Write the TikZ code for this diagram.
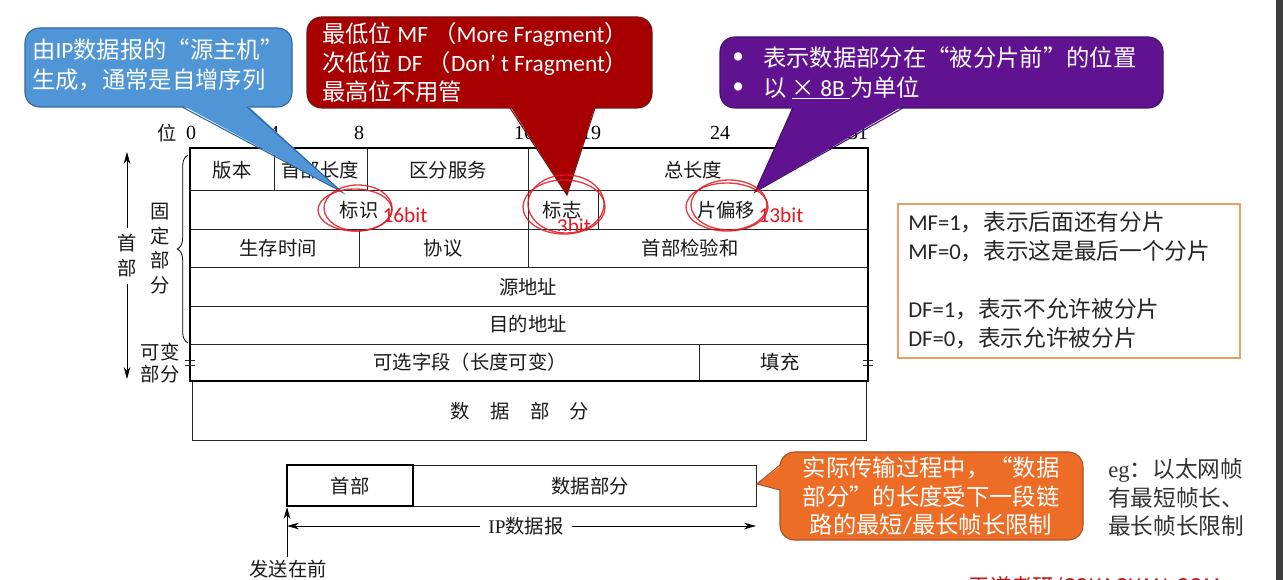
\documentclass[tikz,border=0pt]{standalone}
\usepackage{fontspec}
\setmainfont{Liberation Serif}
\newfontfamily\cjk{Noto Sans CJK SC}
\newfontfamily\carl{Carlito}
\usetikzlibrary{arrows.meta,decorations.pathreplacing}
\definecolor{cblue}{RGB}{80,150,215}
\definecolor{cblueline}{RGB}{50,100,160}
\definecolor{cred}{RGB}{168,0,0}
\definecolor{credline}{RGB}{110,20,20}
\definecolor{cpurple}{RGB}{96,18,145}
\definecolor{cpurpleline}{RGB}{60,20,100}
\definecolor{corange}{RGB}{237,108,38}
\definecolor{corangeline}{RGB}{170,80,40}
\definecolor{cbox}{RGB}{230,160,100}
\definecolor{pen}{RGB}{225,25,35}
\definecolor{wm}{RGB}{190,20,20}
\definecolor{sidebar}{RGB}{62,62,62}
\begin{document}
\begin{tikzpicture}[x=0.75pt,y=-0.75pt,
  cell/.style={font=\cjk\fontsize{14.5}{17}\selectfont,inner sep=0pt,text=black!90},
  bitlab/.style={font=\fontsize{15}{18}\selectfont,inner sep=0pt},
  gridline/.style={line width=0.6pt,draw=black!85},
  outerline/.style={line width=1.2pt,draw=black},
  ctext/.style={font=\cjk\fontsize{17.5}{21}\selectfont,text=white,inner sep=0pt,anchor=west},
  octext/.style={font=\cjk\fontsize{17.5}{21}\selectfont,text=white,inner sep=0pt},
  boxtext/.style={font=\cjk\fontsize{17}{20}\selectfont,text=black!85,inner sep=0pt,anchor=west},
  egtext/.style={font=\cjk\fontsize{17}{20}\selectfont,text=black!80,inner sep=0pt,anchor=west},
  redpen/.style={draw=pen,line width=1pt,opacity=0.85},
  redlab/.style={font=\carl\fontsize{16}{19}\selectfont,text=pen,inner sep=0pt},
  arr/.style={-{Stealth[length=9pt,width=5pt]},line width=0.6pt},
  darr/.style={{Stealth[length=9pt,width=5pt]}-{Stealth[length=9pt,width=5pt]},line width=0.6pt},
]
\useasboundingbox (0,0) rectangle (1283,580);
\fill[white] (0,0) rectangle (1283,580);
\fill[sidebar] (1276,0) rectangle (1283,580);

% ---------- header table ----------
\foreach \y in {190,229,267,306,344} \draw[gridline] (190,\y) -- (868,\y);
\draw[gridline] (274,148) -- (274,190) (367,148) -- (367,190)
  (528,148) -- (528,267) (598,190) -- (598,229) (359,229) -- (359,267)
  (699,344) -- (699,381);
\draw[gridline] (192,381) -- (192,440) -- (866,440) -- (866,381);
\draw[outerline] (190,148) rectangle (868,381);
\draw[gridline] (185,360) -- (195,360) (185,365) -- (195,365);
\draw[gridline] (863,360) -- (873,360) (863,365) -- (873,365);

\node[cell] (ver) at (232,170) {版本};
\node[cell] (ihl) at (320,170) {首部长度};
\node[cell] (tos) at (448,170) {区分服务};
\node[cell] (len) at (693,170) {总长度};
\node[cell] (idf) at (359,210) {标识};
\node[cell] (flg) at (562,210) {标志};
\node[cell] (off) at (726,210) {片偏移};
\node[cell] (ttl) at (278,248) {生存时间};
\node[cell] (pro) at (443,248) {协议};
\node[cell] (chk) at (690,248) {首部检验和};
\node[cell] (src) at (528,287) {源地址};
\node[cell] (dst) at (528,324) {目的地址};
\node[cell] (opt) at (470,362) {可选字段（长度可变）};
\node[cell] (pad) at (780,362) {填充};
\node[cell] (dat) at (520,411) {数\hspace{1.05em}据\hspace{1.05em}部\hspace{1.05em}分};

% bit labels
\node[cell] (wei) at (167,133) {位};
\node[bitlab] (b0) at (191,133) {0};
\node[bitlab] (b4) at (274,133) {4};
\node[bitlab] (b8) at (359,133) {8};
\node[bitlab] (b16) at (524,133) {16};
\node[bitlab] (b19) at (591,133) {19};
\node[bitlab] (b24) at (720,133) {24};
\node[bitlab] (b31) at (858,133) {31};

% left side
\draw[line width=0.6pt,decorate,decoration={brace,amplitude=8pt}] (188,343) -- (188,155);
\node[cell] (gu) at (160,212) {固};
\node[cell] (di) at (160,236) {定};
\node[cell] (bu) at (160,260) {部};
\node[cell] (fe) at (160,285) {分};
\node[cell] (kb1) at (160,352) {可变};
\node[cell] (kb2) at (160,374) {部分};
\node[cell] (sh1) at (127,243) {首};
\node[cell] (sh2) at (127,268) {部};
\coordinate (topA) at (127,152);
\coordinate (botA) at (127,379);
\draw[arr] (127,228) -- (topA);
\draw[arr] (127,284) -- (botA);

% ---------- bottom datagram ----------
\draw[gridline] (413,465) -- (756,465) -- (756,506) -- (413,506);
\draw[outerline] (287,465) rectangle (413,506);
\node[cell] (hd) at (350,486) {首部};
\node[cell] (dp) at (590,486) {数据部分};
\coordinate (ipL) at (287,526);
\coordinate (ipR) at (756,526);
\draw[darr] (ipL) -- (ipR);
\node[cell,fill=white,inner xsep=6pt,inner ysep=2pt] (ip) at (526,526) {{\rmfamily IP}数据报};
\coordinate (sendB) at (287,557);
\coordinate (sendT) at (287,507);
\draw[arr] (sendB) -- (sendT);
\node[cell] (send) at (288,569) {发送在前};

% ---------- MF / DF box ----------
\draw[cbox,line width=0.8pt] (898,204) rectangle (1240,358);
\node[boxtext] (mf1) at (908,222) {{\carl MF=1}，表示后面还有分片};
\node[boxtext] (mf0) at (908,251) {{\carl MF=0}，表示这是最后一个分片};
\node[boxtext] (df1) at (908,309) {{\carl DF=1}，表示不允许被分片};
\node[boxtext] (df0) at (908,338) {{\carl DF=0}，表示允许被分片};

% eg text
\node[egtext] (eg1) at (1108,470) {{\rmfamily eg}：以太网帧};
\node[egtext] (eg2) at (1108,498) {有最短帧长、};
\node[egtext] (eg3) at (1108,526) {最长帧长限制};

% ---------- callouts ----------
% blue
\fill[cblue,draw=cblueline,line width=0.8pt,rounded corners=11pt] (25,28) rectangle (292,107);
\fill[cblue] (182,105) -- (342,192) -- (247,105) -- cycle;
\draw[cblueline,line width=0.8pt] (182,107) -- (342,192) -- (247,107);
\node[ctext] (bl1) at (32,50) {由{\carl IP}数据报的“源主机”};
\node[ctext] (bl2) at (32,80) {生成，通常是自增序列};

% red
\fill[cred,draw=credline,line width=0.8pt,rounded corners=11pt] (307,17) rectangle (652,108);
\fill[cred] (510,106) -- (567,195) -- (595,106) -- cycle;
\draw[credline,line width=0.8pt] (510,108) -- (567,195) -- (595,108);
\node[ctext] (rd1) at (322,35) {最低位 {\carl MF} （{\carl More Fragment}）};
\node[ctext] (rd2) at (322,64) {次低位 {\carl DF} （{\carl Don’ t Fragment}）};
\node[ctext] (rd3) at (322,92) {最高位不用管};

% purple
\fill[cpurple,draw=cpurpleline,line width=0.8pt,rounded corners=11pt] (720,37) rectangle (1163,108);
\fill[cpurple] (793,106) -- (755,192) -- (903,106) -- cycle;
\draw[cpurpleline,line width=0.8pt] (793,108) -- (755,192) -- (903,108);
\node[ctext] (pb1) at (732,58) {{\carl •}};
\node[ctext] (pb2) at (732,88) {{\carl •}};
\node[ctext] (pp1) at (763,58) {表示数据部分在“被分片前”的位置};
\node[ctext] (pp2) at (763,88) {以 \underline{× {\carl 8B} }为单位};

% orange
\fill[corange,draw=corangeline,line width=0.8pt,rounded corners=11pt] (780,452) rectangle (1083,540);
\fill[corange] (782,465) -- (757,484) -- (782,490) -- cycle;
\draw[corangeline,line width=0.8pt] (780,465) -- (757,484) -- (780,490);
\node[octext] (or1) at (931,468) {实际传输过程中，“数据};
\node[octext] (or2) at (931,497) {部分”的长度受下一段链};
\node[octext] (or3) at (931,525) {路的最短{\carl /}最长帧长限制};

% ---------- hand-drawn annotations ----------
\draw[redpen] (355,210) ellipse [x radius=37,y radius=21];
\draw[redpen] (358,208) ellipse [x radius=34,y radius=23];
\draw[redpen] (564,207) ellipse [x radius=41,y radius=27];
\draw[redpen] (566,204) ellipse [x radius=38,y radius=29];
\draw[redpen] (727,207) ellipse [x radius=41,y radius=24];
\draw[redpen] (729,205) ellipse [x radius=38,y radius=25];
\node[redlab] (r16) at (405,215) {16bit};
\node[redlab] (r13) at (781,215) {13bit};
\begin{scope}
\clip (540,200) rectangle (620,231);
\node[redlab] (r3) at (574,226) {3bit};
\end{scope}

% watermark (cut by the lower edge, as in the reference)
\node[font=\cjk\fontsize{16}{19}\selectfont,text=wm,inner sep=0pt] (wmk) at (1095,587) {王道考研/CSKAOYAN.COM};
\end{tikzpicture}
\end{document}
